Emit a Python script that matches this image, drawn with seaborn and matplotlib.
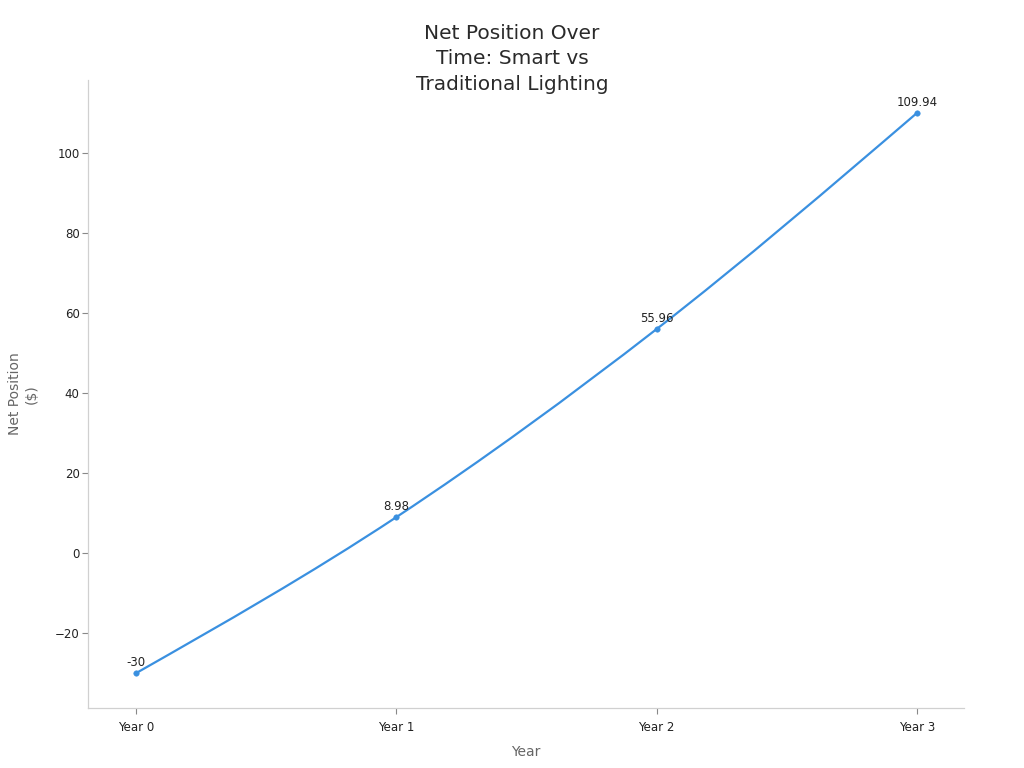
import numpy as np
import pandas as pd
import matplotlib
matplotlib.use("Agg")
import matplotlib.pyplot as plt
import seaborn as sns
from matplotlib.path import Path
from matplotlib.patches import PathPatch

years = ["Year 0", "Year 1", "Year 2", "Year 3"]
net_position = [-30, 8.98, 55.96, 109.94]
point_labels = ["-30", "8.98", "55.96", "109.94"]

sns.set_theme(style="white")
plt.rcParams['font.family'] = ['DejaVu Sans']

color = "#3a90e0"
df = pd.DataFrame({"idx": np.arange(len(years)), "value": net_position})

fig = plt.figure(figsize=(10.24, 7.68), dpi=100)
ax = fig.add_axes([0.086, 0.078, 0.855, 0.818])

# smooth monotone curve through the data points (rendered as Bezier path)
x = df["idx"].to_numpy(float)
y = df["value"].to_numpy(float)
n = len(x)
s = np.diff(y) / np.diff(x)
t = np.zeros(n)
for i in range(1, n - 1):
    h0, h1 = x[i] - x[i-1], x[i+1] - x[i]
    p = (s[i-1] * h1 + s[i] * h0) / (h0 + h1)
    t[i] = (np.sign(s[i-1]) + np.sign(s[i])) * min(abs(s[i-1]), abs(s[i]), 0.5 * abs(p))
t[0] = (3 * s[0] - t[1]) / 2
t[-1] = (3 * s[-1] - t[-2]) / 2
verts = [(x[0], y[0])]
codes = [Path.MOVETO]
for i in range(n - 1):
    dx = x[i+1] - x[i]
    verts += [(x[i] + dx/3, y[i] + dx*t[i]/3), (x[i+1] - dx/3, y[i+1] - dx*t[i+1]/3), (x[i+1], y[i+1])]
    codes += [Path.CURVE4] * 3
ax.add_patch(PathPatch(Path(verts, codes), facecolor="none", edgecolor=color, lw=1.6, zorder=2))

sns.scatterplot(data=df, x="idx", y="value", ax=ax, color=color, s=16, edgecolor=color, zorder=3)

for xi, yi, lab in zip(x, y, point_labels):
    ax.annotate(lab, (xi, yi), xytext=(0, 3), textcoords="offset points",
                ha="center", va="bottom", fontsize=8.5, color="#222222")

ax.set_xlim(-0.185, 3.18)
ax.set_ylim(-38.75, 118.25)
ax.set_xticks(range(len(years)))
ax.set_xticklabels(years)
ax.set_yticks([-20, 0, 20, 40, 60, 80, 100])
ax.set_yticklabels(["\u221220", "0", "20", "40", "60", "80", "100"])
ax.tick_params(axis="x", labelsize=8.5, colors="#222222", length=4, width=0.8, pad=5)
ax.tick_params(axis="y", labelsize=8.5, colors="#222222", length=4, width=0.8, pad=2)
ax.tick_params(bottom=True, left=True)
for sp in ["top", "right"]:
    ax.spines[sp].set_visible(False)
for sp in ["left", "bottom"]:
    ax.spines[sp].set_color("#d0d0d0")
    ax.spines[sp].set_linewidth(0.9)
ax.tick_params(color="#888888")

ax.set_xlabel("Year", fontsize=10, color="#666666", labelpad=8)
ax.set_ylabel("Net Position\n($)", fontsize=10, color="#666666", labelpad=12)
fig.text(0.5, 0.969, "Net Position Over\nTime: Smart vs\nTraditional Lighting",
         ha="center", va="top", fontsize=14.5, color="#2a2a2a", linespacing=1.43)

fig.savefig("out.png", dpi=100)
